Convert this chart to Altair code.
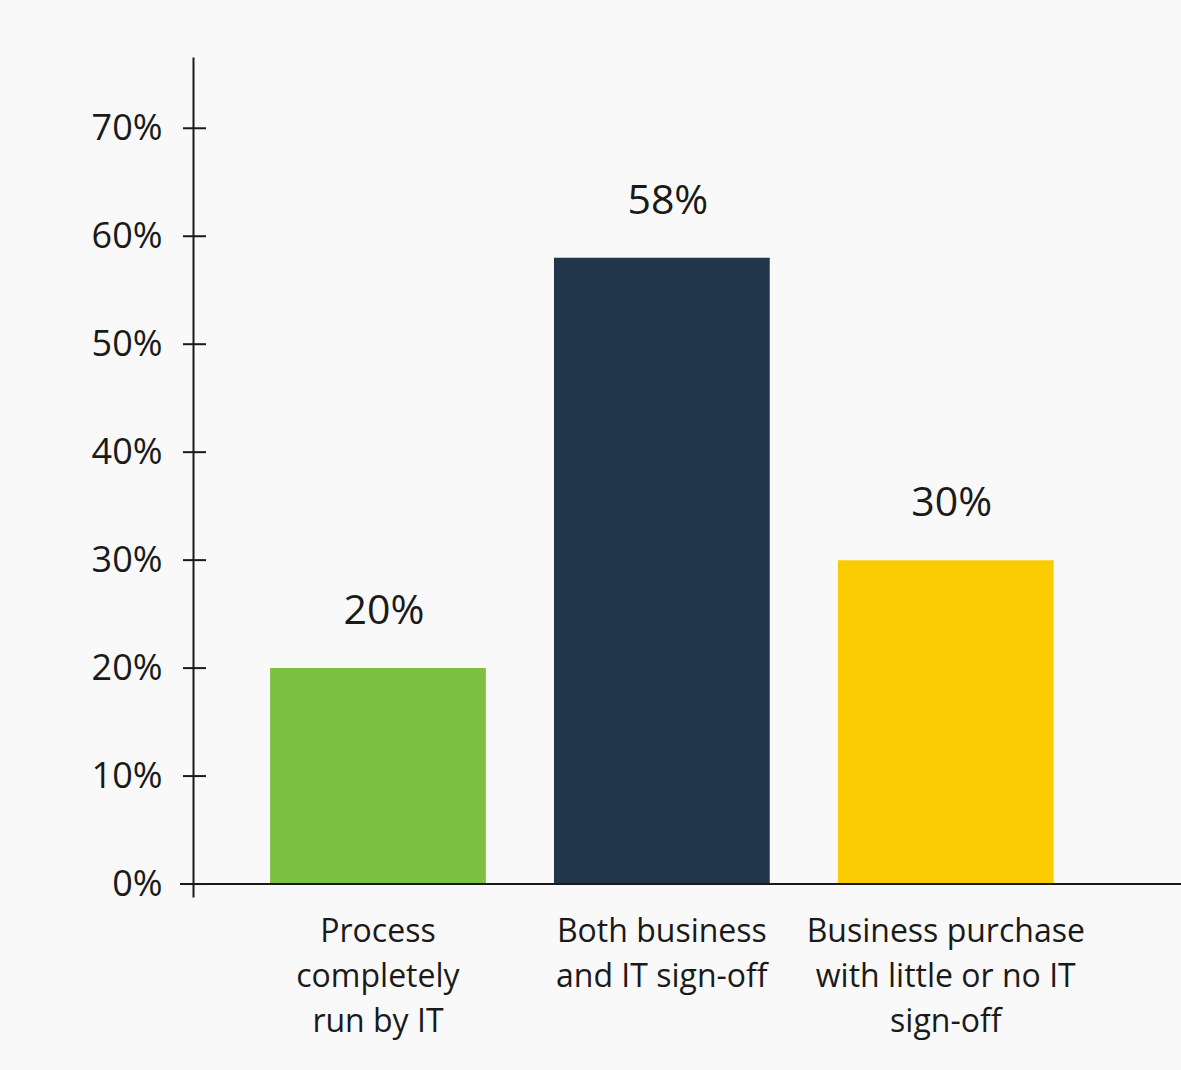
import altair as alt
import pandas as pd

# Survey shares by approval route
categories = [
    "Process|completely|run by IT",
    "Both business|and IT sign-off",
    "Business purchase|with little or no IT|sign-off",
]
shares = [20, 58, 30]
bar_colors = ["#7cc142", "#21354b", "#facc00"]
tick_values = [0, 10, 20, 30, 40, 50, 60, 70]

W, H = 988, 840
FONT = "Open Sans"
INK = "#1a1a1a"

bars_df = pd.DataFrame({"category": categories, "share": shares, "color": bar_colors})
bars_df["label"] = bars_df["share"].astype(str) + "%"
ticks_df = pd.DataFrame({"v": tick_values})

x_scale = alt.Scale(domain=categories, paddingInner=0.24, paddingOuter=0.36, align=0.377)
y_scale = alt.Scale(domain=[-1.2, 76.6], nice=False, zero=False)

x_enc = alt.X(
    "category:N",
    scale=x_scale,
    sort=categories,
    axis=alt.Axis(
        title=None,
        domain=False,
        ticks=False,
        labelAngle=0,
        labelFont=FONT,
        labelFontSize=32,
        labelColor=INK,
        labelLineHeight=45,
        labelBaseline="top",
        labelPadding=19,
        labelExpr="split(datum.label, '|')",
        labelLimit=400,
    ),
)

y_enc = alt.Y(
    "share:Q",
    scale=y_scale,
    axis=alt.Axis(
        title=None,
        values=tick_values,
        labelExpr="datum.value + '%'",
        ticks=False,
        grid=False,
        domain=True,
        domainColor=INK,
        domainWidth=2,
        labelFont=FONT,
        labelFontSize=36,
        labelColor=INK,
        labelPadding=31,
    ),
)

bars = alt.Chart(bars_df).mark_bar().encode(
    x=x_enc,
    y=y_enc,
    y2=alt.datum(0),
    color=alt.Color("color:N", scale=None),
)

values = alt.Chart(bars_df).mark_text(
    font=FONT, fontSize=41, color=INK, baseline="alphabetic", dy=-44, dx=6
).encode(
    x=alt.X("category:N", scale=x_scale, sort=categories),
    y=alt.Y("share:Q", scale=y_scale),
    text="label:N",
)

# cross ticks on the value axis
ticks = alt.Chart(ticks_df).mark_rule(color=INK, strokeWidth=2).encode(
    y=alt.Y("v:Q", scale=y_scale),
    x=alt.value(-10),
    x2=alt.value(13),
)

# baseline at zero, running a little past the value axis
baseline = alt.Chart(ticks_df.head(1)).mark_rule(color=INK, strokeWidth=2).encode(
    y=alt.datum(0),
    x=alt.value(-13),
    x2=alt.value(W),
)

chart = (
    alt.layer(bars, values, ticks, baseline)
    .properties(
        width=W,
        height=H,
        background="#f9f9f9",
        autosize=alt.AutoSizeParams(type="none"),
        padding={"left": 193, "top": 57, "right": 0, "bottom": 173},
    )
    .configure_view(stroke=None)
)

chart.save("out.html", embed_options={"renderer": "svg", "actions": False})
